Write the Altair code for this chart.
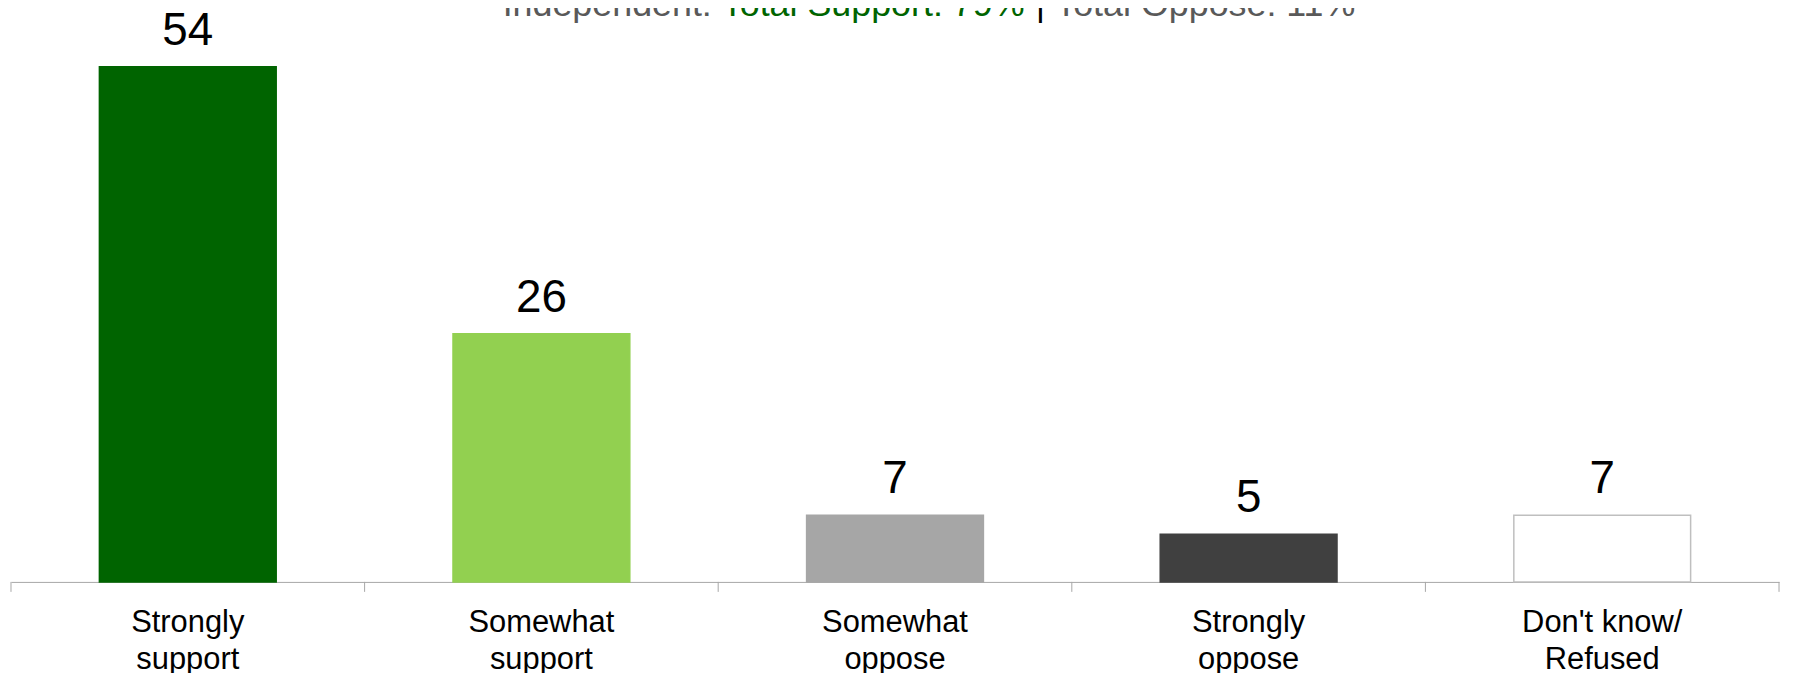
import altair as alt
import pandas as pd

categories = ["Strongly\nsupport", "Somewhat\nsupport", "Somewhat\noppose", "Strongly\noppose", "Don't know/\nRefused"]
values = [54, 26, 7, 5, 7]
fills = ["#006400", "#92d050", "#a6a6a6", "#404040", "#ffffff"]
strokes = ["#006400", "#92d050", "#a6a6a6", "#404040", "#bfbfbf"]
boundaries = [0, 1, 2, 3, 4, 5]
title_parts = ["Independent:", "Total Support: 79%", "|", "Total Oppose: 11%"]
title_colors = ["#595959", "#006400", "#000000", "#595959"]

FONT = "Liberation Sans"
W, H = 1776, 575

df = pd.DataFrame({"category": categories, "value": values, "fill": fills, "stroke": strokes})
bdf = pd.DataFrame({"b": boundaries})

x = alt.X(
    "category:N",
    sort=categories,
    scale=alt.Scale(paddingInner=0.5, paddingOuter=0.25),
    axis=alt.Axis(
        title=None, labelAngle=0, labelExpr="split(datum.label, '\\n')",
        labelFont=FONT, labelFontSize=31, labelColor="#000000", labelLineHeight=37,
        labelPadding=26, ticks=False, domainColor="#a6a6a6", domainWidth=1, labelLimit=0,
    ),
)
y = alt.Y("value:Q", scale=alt.Scale(domain=[0, 60]), axis=None)

bars = alt.Chart(df).mark_bar(strokeWidth=1.5).encode(
    x=x, y=y,
    fill=alt.Fill("fill:N", scale=None),
    stroke=alt.Stroke("stroke:N", scale=None),
)
vlabels = alt.Chart(df).mark_text(
    font=FONT, fontSize=46, dy=-22, baseline="alphabetic", color="#000000"
).encode(x=x, y=y, text="value:Q")

main = alt.layer(bars, vlabels)

ticks = alt.Chart(bdf).mark_rule(color="#a6a6a6", strokeWidth=1).encode(
    x=alt.X("b:Q", scale=alt.Scale(domain=[0, 5], nice=False, zero=False), axis=None),
    y=alt.value(H), y2=alt.value(H + 10),
)

def tpart(i, align, xpos, dx=0):
    return alt.Chart(pd.DataFrame({"t": [title_parts[i]]})).mark_text(
        font=FONT, fontSize=36, align=align, baseline="alphabetic",
        color=title_colors[i], dx=dx,
    ).encode(x=alt.value(xpos), y=alt.value(7), text="t:N")

title = alt.layer(tpart(0, "right", 714, -10), tpart(1, "left", 714), tpart(2, "center", 1034), tpart(3, "left", 1049))

chart = alt.layer(main, ticks, title).resolve_scale(x="independent").properties(
    width=W, height=H,
    autosize=alt.AutoSizeParams(type="none"),
    padding={"left": 3, "top": 0, "right": 6, "bottom": 90},
).configure_view(stroke=None)

chart.save("out.html", embed_options={"renderer": "svg", "actions": False})
